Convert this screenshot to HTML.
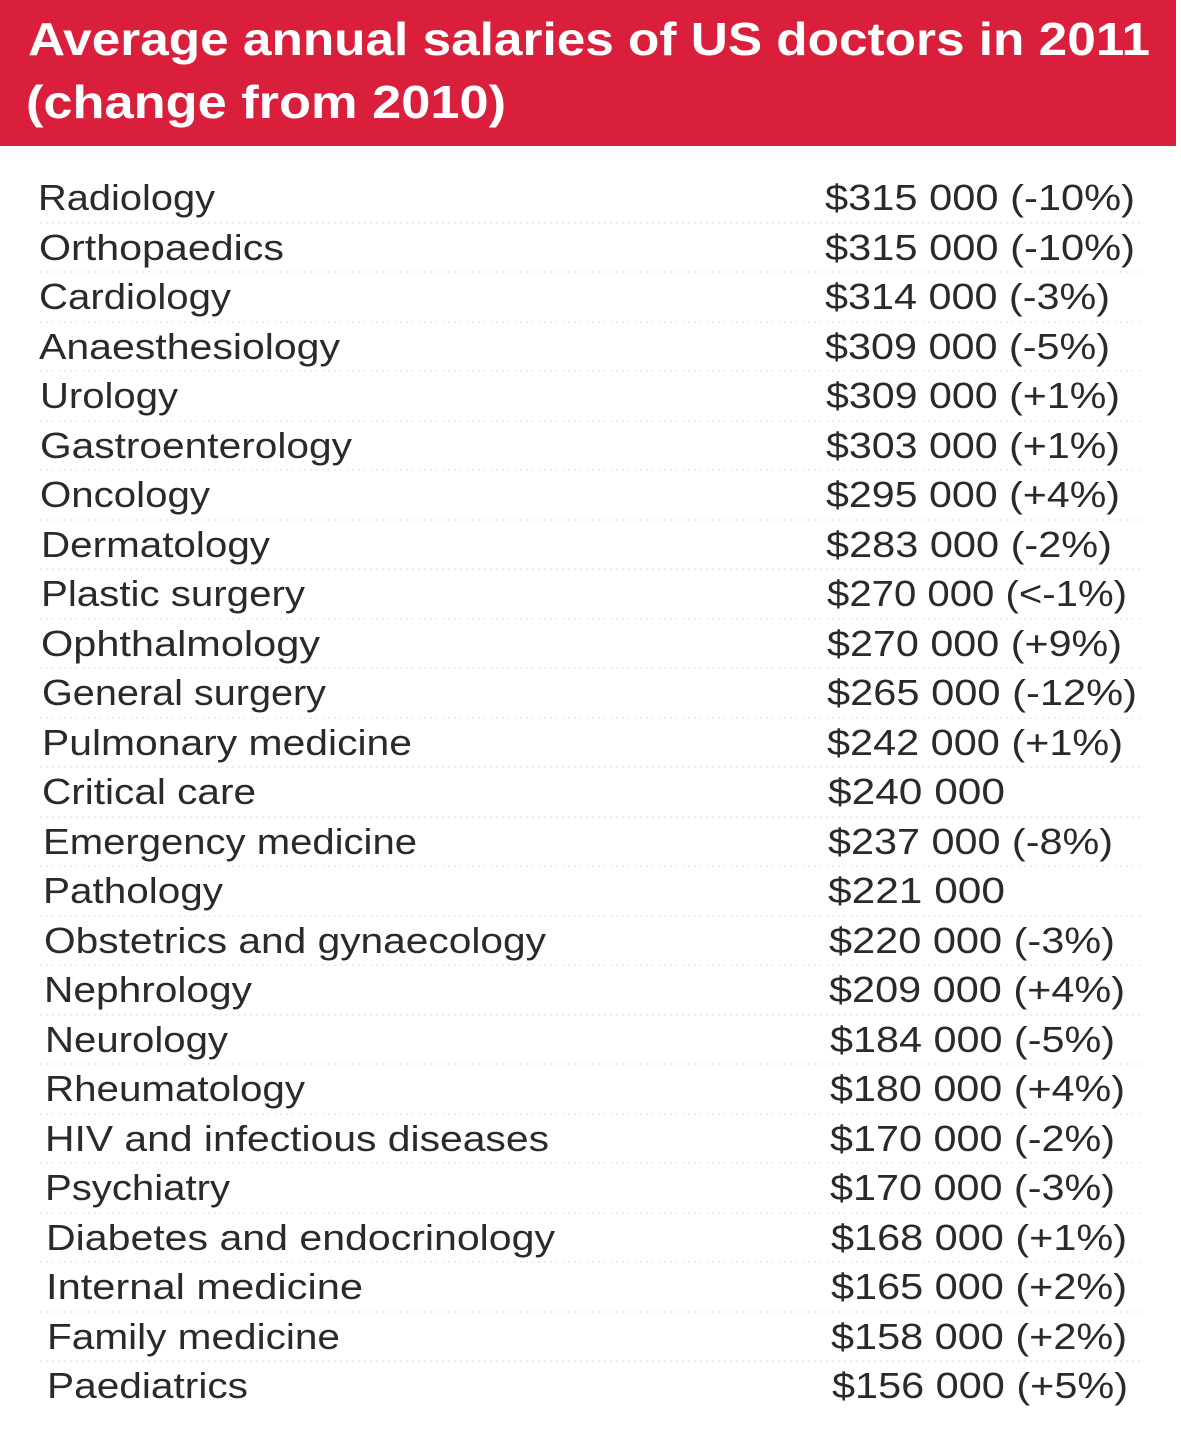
<!DOCTYPE html>
<html><head><meta charset="utf-8"><style>
html,body{margin:0;padding:0;background:#fff;}
svg{display:block;}
.l,.v{font-family:"Liberation Sans",sans-serif;font-size:36px;fill:#2a2a2a;}
.t{font-family:"Liberation Sans",sans-serif;font-weight:bold;font-size:46px;fill:#fff;}
</style></head><body>
<svg width="1181" height="1441" viewBox="0 0 1181 1441" xmlns="http://www.w3.org/2000/svg">
<rect x="0" y="0" width="1181" height="1441" fill="#fff"/>
<rect x="0" y="0" width="1176" height="146" fill="#da1f3d"/>
<text class="t" x="28" y="55" textLength="1122" lengthAdjust="spacingAndGlyphs">Average annual salaries of US doctors in 2011</text>
<text class="t" x="26" y="118" textLength="480" lengthAdjust="spacingAndGlyphs">(change from 2010)</text>
<g stroke="#d8dbe6" stroke-width="1" stroke-dasharray="2 4">
<line x1="40" y1="223" x2="1140" y2="223"/><line x1="40" y1="272" x2="1140" y2="272"/><line x1="40" y1="322" x2="1140" y2="322"/><line x1="40" y1="371" x2="1140" y2="371"/><line x1="40" y1="421" x2="1140" y2="421"/><line x1="40" y1="470" x2="1140" y2="470"/><line x1="40" y1="520" x2="1140" y2="520"/><line x1="40" y1="569" x2="1140" y2="569"/><line x1="40" y1="619" x2="1140" y2="619"/><line x1="40" y1="668" x2="1140" y2="668"/><line x1="40" y1="718" x2="1140" y2="718"/><line x1="40" y1="767" x2="1140" y2="767"/><line x1="40" y1="817" x2="1140" y2="817"/><line x1="40" y1="866" x2="1140" y2="866"/><line x1="40" y1="916" x2="1140" y2="916"/><line x1="40" y1="965" x2="1140" y2="965"/><line x1="40" y1="1015" x2="1140" y2="1015"/><line x1="40" y1="1064" x2="1140" y2="1064"/><line x1="40" y1="1114" x2="1140" y2="1114"/><line x1="40" y1="1163" x2="1140" y2="1163"/><line x1="40" y1="1213" x2="1140" y2="1213"/><line x1="40" y1="1262" x2="1140" y2="1262"/><line x1="40" y1="1312" x2="1140" y2="1312"/><line x1="40" y1="1361" x2="1140" y2="1361"/>
</g>
<g>
<text class="l" x="38" y="210" textLength="177" lengthAdjust="spacingAndGlyphs">Radiology</text>
<text class="l" x="39" y="260" textLength="245" lengthAdjust="spacingAndGlyphs">Orthopaedics</text>
<text class="l" x="39" y="309" textLength="192" lengthAdjust="spacingAndGlyphs">Cardiology</text>
<text class="l" x="39" y="359" textLength="301" lengthAdjust="spacingAndGlyphs">Anaesthesiology</text>
<text class="l" x="40" y="408" textLength="138" lengthAdjust="spacingAndGlyphs">Urology</text>
<text class="l" x="40" y="458" textLength="312" lengthAdjust="spacingAndGlyphs">Gastroenterology</text>
<text class="l" x="40" y="507" textLength="170" lengthAdjust="spacingAndGlyphs">Oncology</text>
<text class="l" x="41" y="557" textLength="229" lengthAdjust="spacingAndGlyphs">Dermatology</text>
<text class="l" x="41" y="606" textLength="264" lengthAdjust="spacingAndGlyphs">Plastic surgery</text>
<text class="l" x="41" y="656" textLength="279" lengthAdjust="spacingAndGlyphs">Ophthalmology</text>
<text class="l" x="42" y="705" textLength="284" lengthAdjust="spacingAndGlyphs">General surgery</text>
<text class="l" x="42" y="755" textLength="370" lengthAdjust="spacingAndGlyphs">Pulmonary medicine</text>
<text class="l" x="42" y="804" textLength="214" lengthAdjust="spacingAndGlyphs">Critical care</text>
<text class="l" x="43" y="854" textLength="374" lengthAdjust="spacingAndGlyphs">Emergency medicine</text>
<text class="l" x="43" y="903" textLength="180" lengthAdjust="spacingAndGlyphs">Pathology</text>
<text class="l" x="44" y="953" textLength="502" lengthAdjust="spacingAndGlyphs">Obstetrics and gynaecology</text>
<text class="l" x="44" y="1002" textLength="208" lengthAdjust="spacingAndGlyphs">Nephrology</text>
<text class="l" x="45" y="1052" textLength="183" lengthAdjust="spacingAndGlyphs">Neurology</text>
<text class="l" x="45" y="1101" textLength="260" lengthAdjust="spacingAndGlyphs">Rheumatology</text>
<text class="l" x="45" y="1151" textLength="504" lengthAdjust="spacingAndGlyphs">HIV and infectious diseases</text>
<text class="l" x="45" y="1200" textLength="185" lengthAdjust="spacingAndGlyphs">Psychiatry</text>
<text class="l" x="46" y="1250" textLength="509" lengthAdjust="spacingAndGlyphs">Diabetes and endocrinology</text>
<text class="l" x="46" y="1299" textLength="317" lengthAdjust="spacingAndGlyphs">Internal medicine</text>
<text class="l" x="47" y="1349" textLength="293" lengthAdjust="spacingAndGlyphs">Family medicine</text>
<text class="l" x="47" y="1398" textLength="201" lengthAdjust="spacingAndGlyphs">Paediatrics</text>
</g>
<g>
<text class="v" x="825" y="210" textLength="310" lengthAdjust="spacingAndGlyphs">$315 000 (-10%)</text>
<text class="v" x="825" y="260" textLength="310" lengthAdjust="spacingAndGlyphs">$315 000 (-10%)</text>
<text class="v" x="825" y="309" textLength="285" lengthAdjust="spacingAndGlyphs">$314 000 (-3%)</text>
<text class="v" x="825" y="359" textLength="285" lengthAdjust="spacingAndGlyphs">$309 000 (-5%)</text>
<text class="v" x="826" y="408" textLength="294" lengthAdjust="spacingAndGlyphs">$309 000 (+1%)</text>
<text class="v" x="826" y="458" textLength="294" lengthAdjust="spacingAndGlyphs">$303 000 (+1%)</text>
<text class="v" x="826" y="507" textLength="294" lengthAdjust="spacingAndGlyphs">$295 000 (+4%)</text>
<text class="v" x="826" y="557" textLength="286" lengthAdjust="spacingAndGlyphs">$283 000 (-2%)</text>
<text class="v" x="827" y="606" textLength="300" lengthAdjust="spacingAndGlyphs">$270 000 (&lt;-1%)</text>
<text class="v" x="827" y="656" textLength="295" lengthAdjust="spacingAndGlyphs">$270 000 (+9%)</text>
<text class="v" x="827" y="705" textLength="310" lengthAdjust="spacingAndGlyphs">$265 000 (-12%)</text>
<text class="v" x="827" y="755" textLength="296" lengthAdjust="spacingAndGlyphs">$242 000 (+1%)</text>
<text class="v" x="828" y="804" textLength="177" lengthAdjust="spacingAndGlyphs">$240 000</text>
<text class="v" x="828" y="854" textLength="285" lengthAdjust="spacingAndGlyphs">$237 000 (-8%)</text>
<text class="v" x="828" y="903" textLength="177" lengthAdjust="spacingAndGlyphs">$221 000</text>
<text class="v" x="829" y="953" textLength="286" lengthAdjust="spacingAndGlyphs">$220 000 (-3%)</text>
<text class="v" x="829" y="1002" textLength="296" lengthAdjust="spacingAndGlyphs">$209 000 (+4%)</text>
<text class="v" x="830" y="1052" textLength="285" lengthAdjust="spacingAndGlyphs">$184 000 (-5%)</text>
<text class="v" x="830" y="1101" textLength="295" lengthAdjust="spacingAndGlyphs">$180 000 (+4%)</text>
<text class="v" x="830" y="1151" textLength="285" lengthAdjust="spacingAndGlyphs">$170 000 (-2%)</text>
<text class="v" x="830" y="1200" textLength="285" lengthAdjust="spacingAndGlyphs">$170 000 (-3%)</text>
<text class="v" x="831" y="1250" textLength="296" lengthAdjust="spacingAndGlyphs">$168 000 (+1%)</text>
<text class="v" x="831" y="1299" textLength="296" lengthAdjust="spacingAndGlyphs">$165 000 (+2%)</text>
<text class="v" x="831" y="1349" textLength="296" lengthAdjust="spacingAndGlyphs">$158 000 (+2%)</text>
<text class="v" x="832" y="1398" textLength="296" lengthAdjust="spacingAndGlyphs">$156 000 (+5%)</text>
</g>
</svg>
</body></html>
